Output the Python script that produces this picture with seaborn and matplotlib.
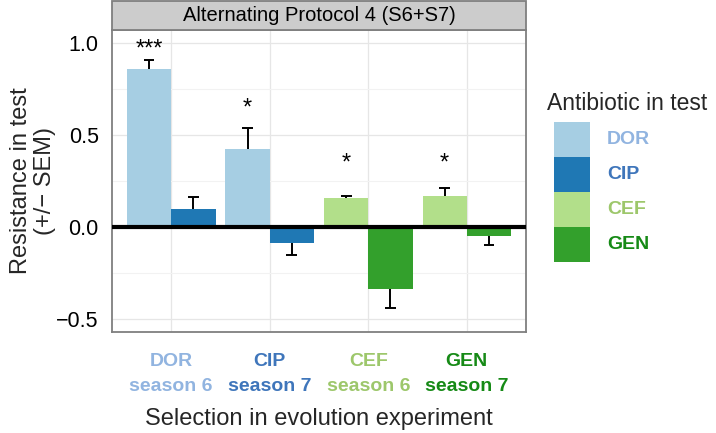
import numpy as np
import pandas as pd
import matplotlib
matplotlib.use("Agg")
import matplotlib.pyplot as plt
import seaborn as sns
from matplotlib.patches import Rectangle

# ---------------- data ----------------
selections = ["DOR\nseason 6", "CIP\nseason 7", "CEF\nseason 6", "GEN\nseason 7"]
selection_colors = ["#91b4e0", "#3f76bb", "#9dc76b", "#168a16"]
antibiotics = ["DOR", "CIP", "CEF", "GEN"]
fill_colors = ["#a6cee3", "#1f78b4", "#b2df8a", "#33a02c"]
label_colors = ["#91b4e0", "#3f76bb", "#9dc76b", "#168a16"]

bar_selection = ["DOR\nseason 6", "DOR\nseason 6", "CIP\nseason 7", "CIP\nseason 7",
                 "CEF\nseason 6", "CEF\nseason 6", "GEN\nseason 7", "GEN\nseason 7"]
bar_slot = ["first", "second"] * 4
bar_antibiotic = ["DOR", "CIP", "DOR", "CIP", "CEF", "GEN", "CEF", "GEN"]
bar_value = [0.857, 0.100, 0.424, -0.085, 0.156, -0.335, 0.168, -0.050]
bar_sem = [0.052, 0.065, 0.116, 0.065, 0.014, 0.105, 0.046, 0.050]

stars = ["***", "*", "*", "*"]
star_y = [0.930, 0.612, 0.313, 0.310]

df = pd.DataFrame({"selection": bar_selection, "slot": bar_slot,
                   "antibiotic": bar_antibiotic, "value": bar_value, "err": bar_sem})

# ---------------- style ----------------
sns.set_style("white")
plt.rcParams["font.family"] = ["Liberation Sans", "DejaVu Sans"]

W, H = 716, 433
fig = plt.figure(figsize=(W / 100, H / 100), dpi=100)
px0, px1, py0, py1 = 112, 526, 30, 332
ax = fig.add_axes([px0 / W, 1 - py1 / H, (px1 - px0) / W, (py1 - py0) / H])

sns.barplot(data=df, x="selection", y="value", hue="slot", order=selections,
            hue_order=["first", "second"], width=0.9, dodge=True, errorbar=None,
            legend=False, saturation=1, linewidth=0, ax=ax, zorder=2)

ab_color = dict(zip(antibiotics, fill_colors))
cap = 0.11
for p in ax.patches:
    if p.get_width() <= 0:
        continue
    cx = p.get_x() + p.get_width() / 2
    g = int(round(cx))
    slot = "first" if cx < g else "second"
    row = df[(df["selection"] == selections[g]) & (df["slot"] == slot)].iloc[0]
    p.set_facecolor(ab_color[row["antibiotic"]])
    p.set_edgecolor("none")
    v, s = float(row["value"]), float(row["err"])
    end = v + s if v >= 0 else v - s
    ax.plot([cx, cx], [v, end], color="black", lw=1.4, zorder=3, solid_capstyle="butt")
    ax.plot([cx - cap / 2, cx + cap / 2], [end, end], color="black", lw=1.4, zorder=3,
            solid_capstyle="butt")

# significance stars above the first bar of each group
for g, (st, sy) in enumerate(zip(stars, star_y)):
    ax.text(g - 0.225, sy, st, ha="center", va="baseline", fontsize=17, color="black", zorder=4)

ax.axhline(0, color="black", lw=3.0, zorder=3)

ax.set_xlim(-0.6, 3.6)
ax.set_ylim(-0.571, 1.07)
ax.set_yticks([-0.5, 0.0, 0.5, 1.0])
ax.set_yticklabels(["\u22120.5", "0.0", "0.5", "1.0"])
ax.set_yticks([-0.25, 0.25, 0.75], minor=True)

ax.grid(True, which="major", color="#e6e6e6", lw=0.9, zorder=0)
ax.grid(True, which="minor", axis="y", color="#f2f2f2", lw=0.8, zorder=0)
ax.set_axisbelow(True)

for sp in ax.spines.values():
    sp.set_color("#7f7f7f")
    sp.set_linewidth(1.3)

ax.tick_params(axis="both", which="major", length=6, width=1.3, color="#333333",
               labelsize=15.5, labelcolor="black", direction="out")
ax.tick_params(axis="y", which="minor", length=0)
ax.tick_params(axis="x", pad=9)

ax.set_xticks(range(len(selections)))
ax.set_xticklabels(selections, linespacing=1.62)
for lbl, c in zip(ax.get_xticklabels(), selection_colors):
    lbl.set_color(c)
    lbl.set_fontweight("bold")
    lbl.set_fontsize(14)

ax.set_xlabel("Selection in evolution experiment", fontsize=17, labelpad=9.5)
ax.set_ylabel("Resistance in test\n(+/\u2212 SEM)", fontsize=17, linespacing=1.12, labelpad=0)

# facet strip
sh = 29 / (py1 - py0)
ax.add_patch(Rectangle((0, 1), 1, sh, transform=ax.transAxes, clip_on=False,
                       facecolor="#cccccc", edgecolor="#7f7f7f", lw=1.3, zorder=5))
ax.text(0.5, 1 + sh / 2, "Alternating Protocol 4 (S6+S7)", transform=ax.transAxes,
        ha="center", va="center", fontsize=14.5, color="black", zorder=6)

# legend
fig.text(547 / W, 1 - 103 / H, "Antibiotic in test", fontsize=16.5, ha="left", va="center")
ky0, kh = 122, 35
for i, (ab, fc, lc) in enumerate(zip(antibiotics, fill_colors, label_colors)):
    y_top = ky0 + i * kh
    fig.patches.append(Rectangle((554 / W, 1 - (y_top + kh) / H), 36 / W, kh / H,
                                 transform=fig.transFigure, facecolor=fc,
                                 edgecolor="none", figure=fig))
    fig.text(607 / W, 1 - (y_top + kh / 2) / H, ab, fontsize=14, fontweight="bold",
             color=lc, ha="left", va="center")

fig.savefig("out.png", dpi=100)
